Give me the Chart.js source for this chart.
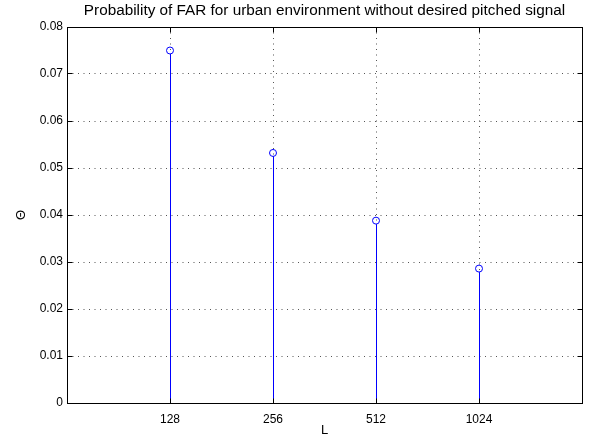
<!DOCTYPE html>
<html>
<head>
<meta charset="utf-8">
<script src="https://cdn.jsdelivr.net/npm/chart.js@4"></script>
<style>
  html, body { margin: 0; padding: 0; background: #fff; }
  #wrap { width: 589px; height: 441px; }
</style>
</head>
<body>
<div id="wrap"><canvas id="farChart"></canvas></div>
<script>
// 데이터
const frameLabels = ['128', '256', '512', '1024'];
const farValues = [0.075, 0.0532, 0.0388, 0.0286];
const yTicks = [0, 0.01, 0.02, 0.03, 0.04, 0.05, 0.06, 0.07, 0.08];

const chartTitle = 'Probability of FAR for urban environment without desired pitched signal';
const FONT = '"Liberation Sans", Arial, Helvetica, sans-serif';

// 1px 선을 픽셀에 맞추기
const align = p => Math.round(p - 0.5) + 0.5;

// 줄기(stem), 테두리 박스, 제목을 그리는 플러그인
const stemPlugin = {
    id: 'stems',
    beforeDatasetsDraw(chart) {
        const ctx = chart.ctx;
        const base = chart.scales.y.getPixelForValue(0);
        const meta = chart.getDatasetMeta(0);
        ctx.save();
        ctx.setLineDash([]);
        ctx.strokeStyle = '#0000ff';
        ctx.lineWidth = 1;
        meta.data.forEach(pt => {
            const x = align(pt.x);
            ctx.beginPath();
            ctx.moveTo(x, base);
            ctx.lineTo(x, pt.y + 3.5);
            ctx.stroke();
        });
        ctx.restore();
    },
    afterDraw(chart) {
        const ctx = chart.ctx;
        const a = chart.chartArea;
        const xs = chart.scales.x, ys = chart.scales.y;
        const L = align(a.left), R = align(a.right);
        const T = align(a.top), B = align(a.bottom);
        ctx.save();
        ctx.strokeStyle = '#000';
        ctx.lineWidth = 1;
        ctx.strokeRect(L, T, R - L, B - T);
        ctx.beginPath();
        yTicks.forEach(v => {
            const y = align(ys.getPixelForValue(v));
            ctx.moveTo(L, y); ctx.lineTo(L + 5, y);
            ctx.moveTo(R, y); ctx.lineTo(R - 5, y);
        });
        frameLabels.forEach((l, i) => {
            const x = align(xs.getPixelForValue(i + 1));
            ctx.moveTo(x, B); ctx.lineTo(x, B - 5);
            ctx.moveTo(x, T); ctx.lineTo(x, T + 5);
        });
        ctx.stroke();

        // 제목: 플롯 영역 가운데 정렬
        ctx.fillStyle = '#000';
        ctx.font = '15.3px ' + FONT;
        ctx.textAlign = 'center';
        ctx.textBaseline = 'middle';
        ctx.fillText(chartTitle, (a.left + a.right) / 2, 11);
        ctx.restore();
    }
};

new Chart(document.getElementById('farChart'), {
    type: 'line',
    data: {
        datasets: [{
            data: farValues.map((v, i) => ({ x: i + 1, y: v })),
            showLine: false,
            borderColor: '#0000ff',
            backgroundColor: 'rgba(0,0,0,0)',
            pointRadius: 3.5,
            pointBorderWidth: 1,
            pointStyle: 'circle'
        }]
    },
    options: {
        responsive: true,
        maintainAspectRatio: false,
        animation: false,
        devicePixelRatio: 1,
        layout: { padding: { left: 0, right: 7, top: 27, bottom: 0 } },
        plugins: {
            legend: { display: false },
            tooltip: { enabled: false },
            title: { display: false }
        },
        scales: {
            x: {
                type: 'linear',
                min: 0,
                max: 5,
                afterBuildTicks: s => { s.ticks = frameLabels.map((l, i) => ({ value: i + 1 })); },
                afterFit: s => { s.height = 38; },
                ticks: {
                    callback: v => frameLabels[v - 1] || '',
                    color: '#000',
                    font: { family: FONT, size: 12 },
                    padding: 9,
                    maxRotation: 0
                },
                grid: { color: '#555', drawTicks: false, lineWidth: 1 },
                border: { display: false, dash: [1, 4.5] },
                title: {
                    display: true,
                    text: 'L',
                    color: '#000',
                    font: { family: FONT, size: 13 },
                    padding: { top: 0, bottom: 3 }
                }
            },
            y: {
                min: 0,
                max: 0.08,
                afterBuildTicks: s => { s.ticks = yTicks.map(v => ({ value: v })); },
                afterFit: s => { s.width = 67; },
                ticks: {
                    callback: v => String(v),
                    color: '#000',
                    font: { family: FONT, size: 12 },
                    padding: 4
                },
                grid: { color: '#555', drawTicks: false, lineWidth: 1 },
                border: { display: false, dash: [1, 4.5] },
                title: {
                    display: true,
                    text: 'Θ',
                    color: '#000',
                    font: { family: FONT, size: 13 },
                    padding: { top: 14, bottom: 0 }
                }
            }
        }
    },
    plugins: [stemPlugin]
});
</script>
</body>
</html>
